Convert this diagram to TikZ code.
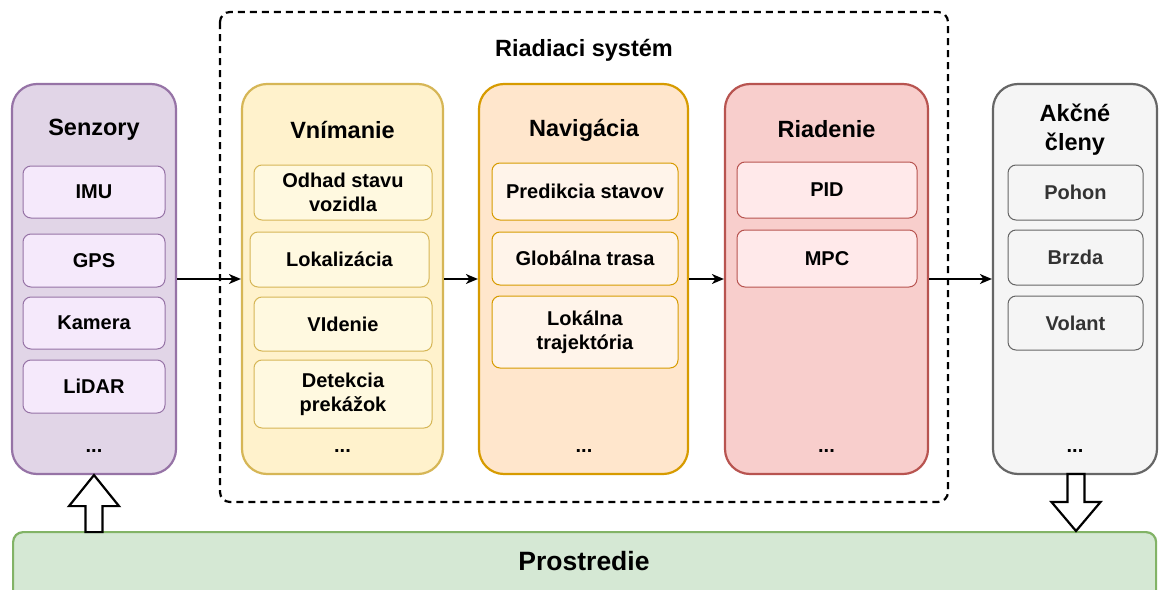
\documentclass[tikz,border=0pt]{standalone}
\usepackage{fontspec}
\setmainfont{Liberation Sans}
\usetikzlibrary{arrows.meta,calc}
\definecolor{purF}{HTML}{E1D5E7}\definecolor{purD}{HTML}{9673A6}\definecolor{purI}{HTML}{F5E9FB}
\definecolor{yelF}{HTML}{FFF2CC}\definecolor{yelD}{HTML}{D6B656}\definecolor{yelI}{HTML}{FFF9E0}
\definecolor{oraF}{HTML}{FFE6CC}\definecolor{oraD}{HTML}{D79B00}\definecolor{oraI}{HTML}{FFF4EA}
\definecolor{redF}{HTML}{F8CECC}\definecolor{redD}{HTML}{B85450}\definecolor{redI}{HTML}{FFE9EA}
\definecolor{grF}{HTML}{F5F5F5}\definecolor{grD}{HTML}{666666}\definecolor{grT}{HTML}{333333}
\definecolor{grnF}{HTML}{D5E8D4}\definecolor{grnD}{HTML}{82B366}
\tikzset{
  outerbox/.style={draw, line width=2.2pt, rounded corners=25pt, minimum height=390pt, inner sep=0pt},
  innerbox/.style={draw, line width=1pt, rounded corners=8pt, inner sep=0pt, align=center,
    font=\fontsize{20}{24}\selectfont\bfseries},
  titletext/.style={font=\fontsize{23.5}{29}\selectfont\bfseries, align=center, inner sep=0pt},
  dotstext/.style={font=\fontsize{20}{24}\selectfont\bfseries, inner sep=0pt, anchor=base},
  flow/.style={line width=1.3pt, -{Stealth[length=12pt,width=10pt,inset=3.5pt]}},
  blockarrow/.style={draw, line width=2.2pt, fill=white, line join=miter},
}
\begin{document}
\begin{tikzpicture}[x=1pt,y=-1pt]
\clip (0,0) rectangle (1159,589);
\fill[white] (0,0) rectangle (1159,589);
% control system dashed frame
\draw[line width=2.2pt, dash pattern=on 7pt off 5pt, rounded corners=10pt] (220,12) rectangle (948,502);
\node[titletext] (rs) at (584,50.5) {Riadiaci systém};
% outer boxes
\node[outerbox, fill=purF, draw=purD, minimum width=164pt] (sen) at (94,279) {};
\node[outerbox, fill=yelF, draw=yelD, minimum width=201pt] (vni) at (342.5,279) {};
\node[outerbox, fill=oraF, draw=oraD, minimum width=209pt] (nav) at (583.5,279) {};
\node[outerbox, fill=redF, draw=redD, minimum width=203pt] (ria) at (826.5,279) {};
\node[outerbox, fill=grF, draw=grD, minimum width=164pt] (akc) at (1075,279) {};
% titles
\node[titletext] (tsen) at (94,129.5) {Senzory};
\node[titletext] (tvni) at (342.5,129.5) {Vnímanie};
\node[titletext] (tnav) at (584,130) {Navigácia};
\node[titletext] (tria) at (826.5,129.5) {Riadenie};
\node[titletext] (takc) at (1075,129.5) {Akčné\\členy};
% Senzory items
\begin{scope}[every node/.append style={innerbox, fill=purI, draw=purD, minimum width=142pt}]
\node[minimum height=52pt] (imu) at (94,192) {IMU};
\node[minimum height=53pt] (gps) at (94,260.5) {GPS};
\node[minimum height=52pt] (kam) at (94,323) {Kamera};
\node[minimum height=53pt] (lid) at (94,386.5) {LiDAR};
\end{scope}
% Vnimanie items
\begin{scope}[every node/.append style={innerbox, fill=yelI, draw=yelD, minimum width=178pt}]
\node[minimum height=55pt] (odh) at (343,192.5) {Odhad stavu\\vozidla};
\node[minimum height=55pt, minimum width=179pt] (lok) at (339.5,259.5) {Lokalizácia};
\node[minimum height=54pt] (vid) at (343,324) {VIdenie};
\node[minimum height=68pt] (det) at (343,394) {Detekcia\\prekážok};
\end{scope}
% Navigacia items
\begin{scope}[every node/.append style={innerbox, fill=oraI, draw=oraD, minimum width=186pt}]
\node[minimum height=57pt] (pre) at (585,191.5) {Predikcia stavov};
\node[minimum height=53pt] (glo) at (585,258.5) {Globálna trasa};
\node[minimum height=72pt] (lkt) at (585,332) {Lokálna\\trajektória};
\end{scope}
% Riadenie items
\begin{scope}[every node/.append style={innerbox, fill=redI, draw=redD, minimum width=180pt}]
\node[minimum height=56pt] (pid) at (827,190) {PID};
\node[minimum height=57pt] (mpc) at (827,258.5) {MPC};
\end{scope}
% Akcne cleny items
\begin{scope}[every node/.append style={innerbox, fill=grF, draw=grD, text=grT, minimum width=135pt}]
\node[minimum height=55pt] (poh) at (1075.5,192.5) {Pohon};
\node[minimum height=55pt] (brz) at (1075.5,257.5) {Brzda};
\node[minimum height=54pt] (vol) at (1075.5,323) {Volant};
\end{scope}
% dots
\node[dotstext] (dsen) at (94,452) {...};
\node[dotstext] (dvni) at (342.5,452) {...};
\node[dotstext] (dnav) at (584,452) {...};
\node[dotstext] (dria) at (826.5,452) {...};
\node[dotstext] (dakc) at (1075,452) {...};
% environment
\node[draw=grnD, fill=grnF, line width=2.2pt, rounded corners=10pt, minimum width=1143pt, minimum height=80pt,
  anchor=north west, inner sep=0pt] (env) at (12,531) {};
\node[font=\fontsize{26.5}{30}\selectfont\bfseries, inner sep=0pt] (envt) at (584,561) {Prostredie};
% flow arrows
\draw[flow] (sen.east) -- (vni.west);
\draw[flow] (vni.east) -- (nav.west);
\draw[flow] (nav.east) -- (ria.west);
\draw[flow] (ria.east) -- (akc.west);
% block arrows
\coordinate (upTip) at (sen.south);
\draw[blockarrow] (upTip) -- ++(25,31) -- ++(-16.5,0) -- ++(0,26) -- ++(-17,0) -- ++(0,-26) -- ++(-16.5,0) -- cycle;
\coordinate (dnTip) at ($(env.north west)+(1064,0)$);
\draw[blockarrow] (dnTip) -- ++(24.5,-29) -- ++(-16,0) -- ++(0,-28) -- ++(-17,0) -- ++(0,28) -- ++(-16,0) -- cycle;
\end{tikzpicture}
\end{document}
